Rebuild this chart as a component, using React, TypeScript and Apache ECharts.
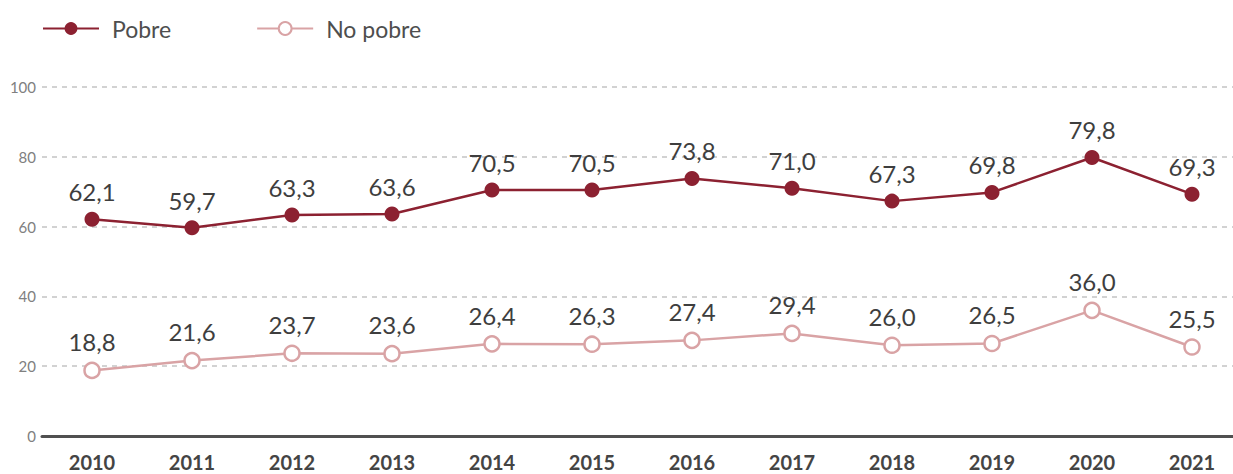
import React, { useEffect, useRef } from "react";
import * as echarts from "echarts";

const years = ["2010","2011","2012","2013","2014","2015","2016","2017","2018","2019","2020","2021"];
const pobre = [62.1, 59.7, 63.3, 63.6, 70.5, 70.5, 73.8, 71.0, 67.3, 69.8, 79.8, 69.3];
const noPobre = [18.8, 21.6, 23.7, 23.6, 26.4, 26.3, 27.4, 29.4, 26.0, 26.5, 36.0, 25.5];
const yTicks = { min: 0, max: 100, interval: 20 };

const FONT = "Lato, 'Open Sans', sans-serif";

export default function App() {
  const ref = useRef<HTMLDivElement>(null);
  useEffect(() => {
    document.body.style.margin = "0";
    const chart = echarts.init(ref.current!, null, { renderer: "svg" });
    const fmt = (p: any) => Number(p.value).toFixed(1).replace(".", ",");
    chart.setOption({
      animation: false,
      textStyle: { fontFamily: FONT },
      legend: {
        left: 37,
        top: 12,
        itemWidth: 56,
        itemHeight: 16,
        itemGap: 85,
        textStyle: { fontSize: 23, color: "#4e4e4e", fontFamily: FONT, fontWeight: 400, padding: [0, 0, 0, 8] },
        data: ["Pobre", "No pobre"],
      },
      grid: { left: 42, width: 1200, top: 87, bottom: 38, outerBoundsMode: "none", containLabel: false },
      xAxis: {
        type: "category",
        data: years,
        boundaryGap: true,
        axisLine: { lineStyle: { color: "#505050", width: 3 } },
        axisTick: { show: false },
        axisLabel: { fontSize: 20, fontWeight: "bold", color: "#444", margin: 16, fontFamily: FONT },
      },
      yAxis: {
        type: "value",
        min: yTicks.min,
        max: yTicks.max,
        interval: yTicks.interval,
        axisLine: { show: false },
        axisTick: { show: false },
        axisLabel: { fontSize: 15, color: "#808080", margin: 6, fontFamily: FONT },
        splitLine: { lineStyle: { color: "#c4c4c4", type: [5, 5], width: 1.5 } },
      },
      series: [
        {
          name: "Pobre",
          type: "line",
          data: pobre,
          symbol: "circle",
          symbolSize: 15,
          color: "#8c2131",
          lineStyle: { color: "#8c2131", width: 2.5 },
          itemStyle: { color: "#8c2131" },
          label: { show: true, position: "top", distance: 8, fontSize: 24, fontWeight: 400, color: "#3e3e3e", formatter: fmt, fontFamily: FONT },
        },
        {
          name: "No pobre",
          type: "line",
          data: noPobre,
          symbol: "circle",
          symbolSize: 15,
          color: "#d9a3a5",
          lineStyle: { color: "#d9a3a5", width: 2.5 },
          itemStyle: { color: "#fff", borderColor: "#d9a3a5", borderWidth: 2.5 },
          label: { show: true, position: "top", distance: 8, fontSize: 24, fontWeight: 400, color: "#3e3e3e", formatter: fmt, fontFamily: FONT },
        },
      ],
    });
    return () => chart.dispose();
  }, []);
  return <div ref={ref} style={{ width: 1233, height: 474 }} />;
}
